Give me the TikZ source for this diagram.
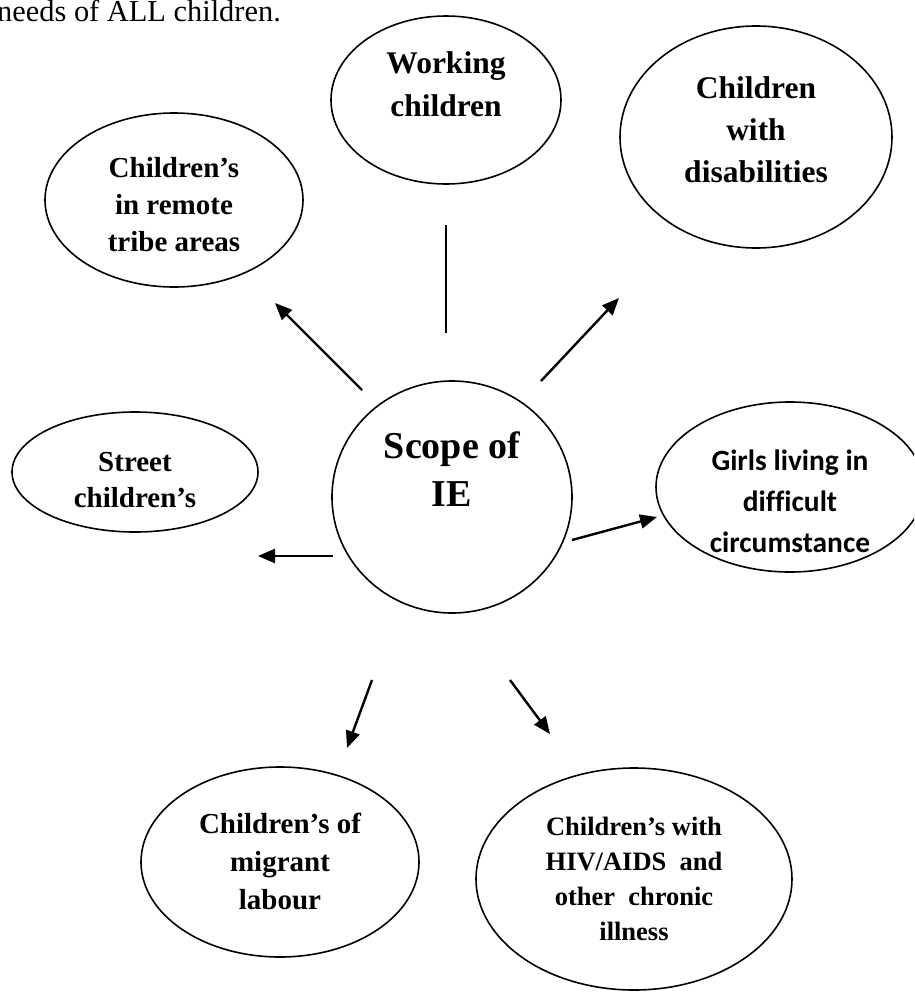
\documentclass[tikz,border=0pt]{standalone}
\usepackage{fontspec}
\setmainfont{Liberation Serif}
\newfontfamily\carlito[Ligatures=NoCommon]{Carlito}
\usetikzlibrary{shapes.geometric,arrows.meta}
\tikzset{
  oval/.style={ellipse, draw, line width=1.6pt, inner sep=0pt},
  txt/.style={align=center, inner sep=0pt},
  arr/.style={line width=2.4pt, -{Triangle[length=17pt,width=14pt]}},
  plainline/.style={line width=1.3pt}
}
\newcommand{\fs}[2]{\fontsize{#1}{#2}\selectfont\bfseries}
\begin{document}
\begin{tikzpicture}[x=1pt,y=-1pt]
\useasboundingbox (0,0) rectangle (914,994);
\clip (0,0) rectangle (914,994);
% top text
\node[anchor=base west, inner sep=0pt, font=\fontsize{30.4}{36}\selectfont] (toptext) at (-3,21) {needs of ALL children.};
% ellipses
\node[oval, minimum width=230pt, minimum height=168pt] (work) at (446,100) {};
\node[oval, minimum width=272pt, minimum height=222pt] (dis) at (756,137) {};
\node[oval, minimum width=258pt, minimum height=174pt] (tribe) at (174,200) {};
\node[oval, minimum width=246pt, minimum height=120pt] (street) at (135,472) {};
\node[oval, minimum width=240pt, minimum height=232pt] (scope) at (452,497) {};
\node[oval, minimum width=268pt, minimum height=170pt] (girls) at (790,487) {};
\node[oval, minimum width=278pt, minimum height=190pt] (migrant) at (280,862) {};
\node[oval, minimum width=316pt, minimum height=222pt] (hiv) at (634,879) {};
% texts
\node[txt, font=\fs{31.5}{43}] (worktxt) at (446,84) {Working\\children};
\node[txt, font=\fs{31.5}{42}] (distxt) at (756,130) {Children\\with\\disabilities};
\node[txt, font=\fs{29}{37}] (tribetxt) at (174,205) {Children’s\\in remote\\tribe areas};
\node[txt, font=\fs{29}{36}] (streettxt) at (135,480) {Street\\children’s};
\node[txt, font=\fs{38}{48}] (scopetxt) at (452,469) {Scope of\\IE};
\node[txt, font=\carlito\fs{29.4}{41}] (girlstxt) at (790,501) {Girls living in\\difficult\\circumstance};
\node[txt, font=\fs{29}{38}] (migranttxt) at (280,861) {Children’s of\\migrant\\labour};
\node[txt, font=\fs{26.5}{35}] (hivtxt) at (634,879) {Children’s with\\HIV/AIDS\ \ and\\other\ \ chronic\\illness};
% connector end points
\coordinate (lt) at (446,225); \coordinate (lb) at (446,333);
\coordinate (t1) at (362,390); \coordinate (t2) at (275,303);
\coordinate (d1) at (541,381); \coordinate (d2) at (619,298);
\coordinate (s1) at (333,556); \coordinate (s2) at (258,556);
\coordinate (g1) at (572,540); \coordinate (g2) at (657,517);
\coordinate (m1) at (372,680); \coordinate (m2) at (347,748);
\coordinate (h1) at (510,680); \coordinate (h2) at (550,734);
% connectors
\draw[plainline] (lt) -- (lb);
\draw[arr] (t1) -- (t2);
\draw[arr] (d1) -- (d2);
\draw[arr] (s1) -- (s2);
\draw[arr] (g1) -- (g2);
\draw[arr] (m1) -- (m2);
\draw[arr] (h1) -- (h2);
\end{tikzpicture}
\end{document}
